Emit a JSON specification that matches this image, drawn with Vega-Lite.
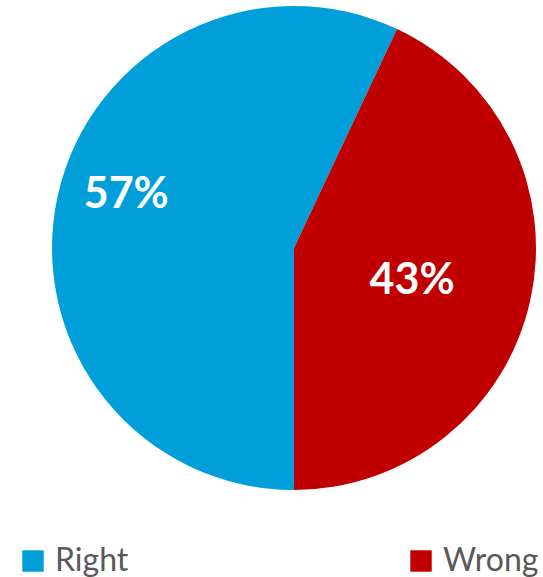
{
  "$schema": "https://vega.github.io/schema/vega-lite/v6.json",
  "width": 543,
  "height": 577,
  "autosize": "none",
  "padding": 0,
  "background": "white",
  "data": {"values": [
    {"answer": "Right", "share": 0.57},
    {"answer": "Wrong", "share": 0.43}
  ]},
  "encoding": {
    "theta": {"field": "share", "type": "quantitative", "stack": true, "scale": {"range": [3.14159265, 9.42477796]}},
    "order": {"field": "answer", "type": "nominal", "sort": "ascending"},
    "color": {
      "field": "answer", "type": "nominal",
      "scale": {"domain": ["Right", "Wrong"], "range": ["#009FDA", "#C00000"]},
      "legend": {
        "title": null, "orient": "none", "legendX": 17, "legendY": 545,
        "direction": "horizontal", "columns": 2, "columnPadding": 276,
        "symbolType": "square", "symbolSize": 460, "symbolStrokeWidth": 0,
        "labelFont": "Lato", "labelFontSize": 32, "labelColor": "#595959",
        "labelOffset": 6, "labelLimit": 300
      }
    }
  },
  "layer": [
    {"mark": {"type": "arc", "x": 294, "y": 248, "outerRadius": 242}},
    {
      "mark": {"type": "text", "x": 294, "y": 248, "radius": 178, "dx": 6, "dy": -14, "font": "Lato", "fontSize": 43, "fontWeight": "bold"},
      "encoding": {"text": {"condition": {"test": "datum.answer == 'Right'", "field": "share", "format": ".0%"}, "value": ""}, "color": {"value": "white"}}
    },
    {
      "mark": {"type": "text", "x": 294, "y": 248, "radius": 121, "dy": 7, "font": "Lato", "fontSize": 43, "fontWeight": "bold"},
      "encoding": {"text": {"condition": {"test": "datum.answer == 'Wrong'", "field": "share", "format": ".0%"}, "value": ""}, "color": {"value": "white"}}
    }
  ]
}
